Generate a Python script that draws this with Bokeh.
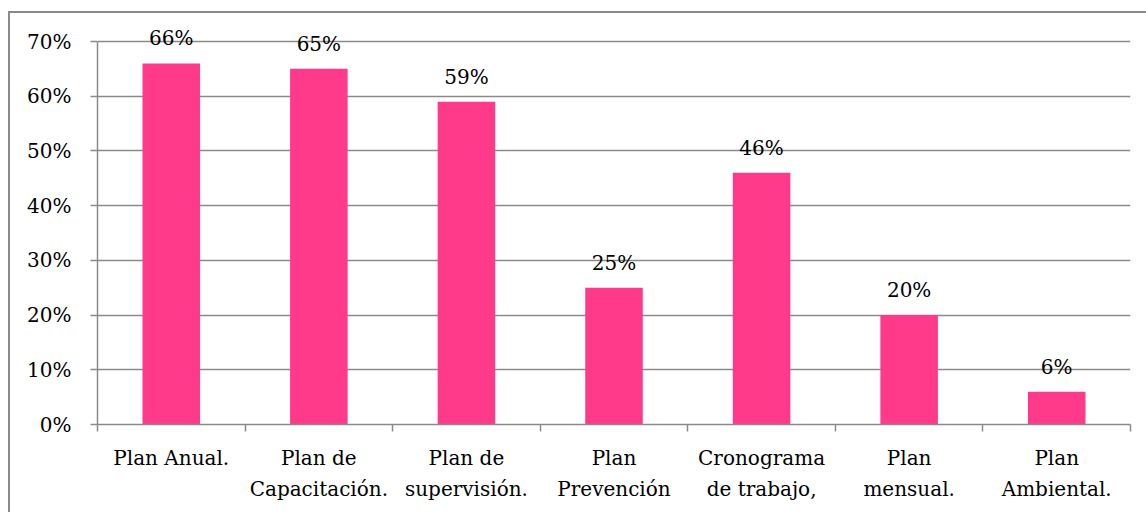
from bokeh.plotting import figure
from bokeh.models import (Range1d, FixedTicker, PrintfTickFormatter,
                          ColumnDataSource, InlineStyleSheet)
from bokeh.core.properties import value
from bokeh.embed import file_html
from bokeh.resources import INLINE

# Share of each planning document (%)
categories = ["Plan Anual.", "Plan de\nCapacitación.", "Plan de\nsupervisión.",
              "Plan\nPrevención", "Cronograma\nde trabajo,", "Plan\nmensual.",
              "Plan\nAmbiental."]
percentages = [66, 65, 59, 25, 46, 20, 6]
y_ticks = [0, 10, 20, 30, 40, 50, 60, 70]

FONT = "DejaVu Serif"
FONT_SIZE = "20px"
GRID = "#8a8a8a"
BAR = "#FF3A8B"

n = len(categories)
centers = [i + 0.5 for i in range(n)]
edges = list(range(n + 1))

src = ColumnDataSource(dict(
    x=centers,
    top=percentages,
    label=[f"{v}%" for v in percentages],
))

# 0% sits at y=424 px, 70% at y=41 px
px_per_unit = (424 - 41) / 70.0
y_top = 424 / px_per_unit

p = figure(width=1146, height=512, output_backend="svg", toolbar_location=None,
           x_range=Range1d(0, n), y_range=Range1d(0, y_top),
           min_border_left=97, min_border_right=16, min_border_top=0,
           min_border_bottom=88)
p.outline_line_color = None
p.background_fill_color = "white"
p.border_fill_color = "white"

p.vbar(x="x", top="top", width=0.39, source=src, fill_color=BAR, line_color=None)

p.text(x="x", y="top", text="label", source=src, text_align="center",
       text_baseline="alphabetic", y_offset=-25,
       text_font=value(FONT), text_font_size=FONT_SIZE, text_color="black")

# y axis
p.yaxis.ticker = FixedTicker(ticks=y_ticks)
p.yaxis.formatter = PrintfTickFormatter(format="%d%%")
p.yaxis.bounds = (0, 70)
p.yaxis.axis_line_color = GRID
p.yaxis.axis_line_width = 1.5
p.yaxis.major_tick_line_color = GRID
p.yaxis.major_tick_line_width = 1.5
p.yaxis.major_tick_in = 0
p.yaxis.major_tick_out = 7
p.yaxis.minor_tick_line_color = None
p.yaxis.major_label_standoff = 19
p.yaxis.major_label_text_font = FONT
p.yaxis.major_label_text_font_size = FONT_SIZE
p.yaxis.major_label_text_color = "black"

# x axis: labels at bar centres, tick marks at category edges
p.xaxis.ticker = FixedTicker(ticks=centers, minor_ticks=edges)
p.xaxis.major_label_overrides = {c: cat for c, cat in zip(centers, categories)}
p.xaxis.axis_line_color = GRID
p.xaxis.axis_line_width = 1.5
p.xaxis.major_tick_line_color = None
p.xaxis.major_tick_in = 0
p.xaxis.major_tick_out = 0
p.xaxis.minor_tick_line_color = GRID
p.xaxis.minor_tick_line_width = 1.5
p.xaxis.minor_tick_in = 0
p.xaxis.minor_tick_out = 7
p.xaxis.major_label_standoff = 14
p.xaxis.major_label_text_font = FONT
p.xaxis.major_label_text_font_size = FONT_SIZE
p.xaxis.major_label_text_color = "black"
p.xaxis.major_label_text_line_height = 1.33

p.xgrid.grid_line_color = None
p.ygrid.ticker = FixedTicker(ticks=y_ticks)
p.ygrid.grid_line_color = GRID
p.ygrid.grid_line_width = 1.5

# chart-area border (top and left edges of the chart box)
p.stylesheets = [InlineStyleSheet(css="""
:host { position: relative; }
:host::after {
  content: "";
  position: absolute;
  left: 8px; top: 11px; right: 0; bottom: 0;
  border-left: 2px solid #8a8a8a;
  border-top: 2px solid #8a8a8a;
  pointer-events: none;
  z-index: 10;
}
""")]

open("out.html", "w").write(file_html(p, INLINE))
